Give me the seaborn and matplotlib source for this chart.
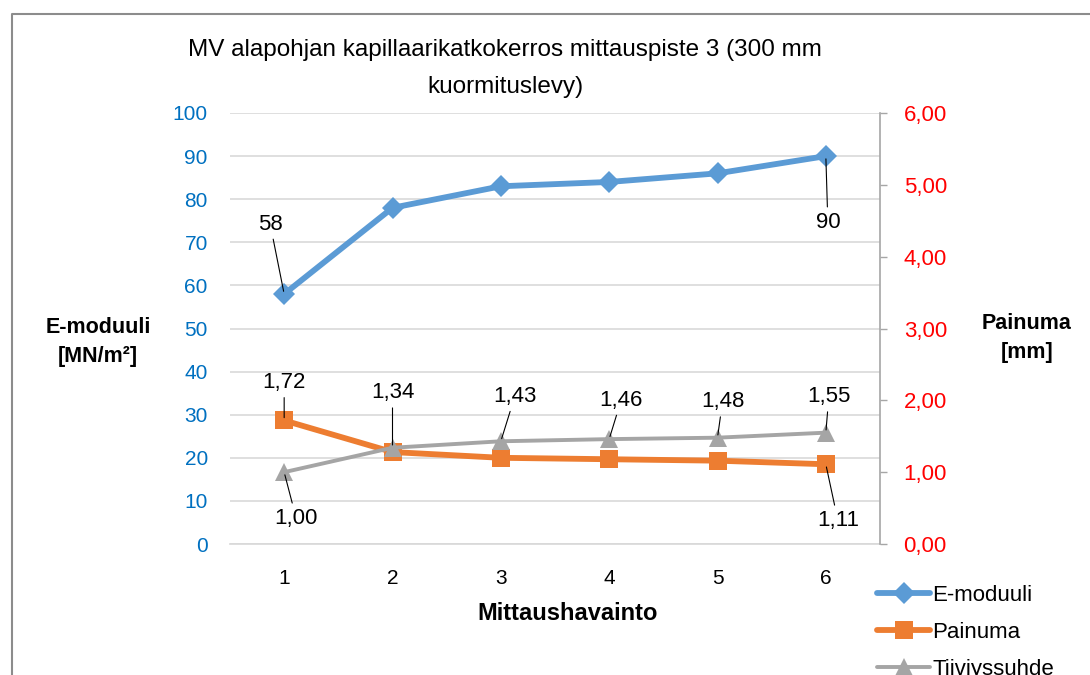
import numpy as np
import pandas as pd
import seaborn as sns
from matplotlib import pyplot as plt
from matplotlib.lines import Line2D

# data
mittaus = [1, 2, 3, 4, 5, 6]
e_moduuli = [58, 78, 83, 84, 86, 90]
painuma = [1.72, 1.28, 1.20, 1.18, 1.16, 1.11]
tiiviyssuhde = [1.00, 1.34, 1.43, 1.46, 1.48, 1.55]

e_ticks = [0, 10, 20, 30, 40, 50, 60, 70, 80, 90, 100]
p_ticks = [0, 1, 2, 3, 4, 5, 6]

# which points get a value label, and where the label sits (pixels from point)
e_labels = {0: (-14, 70), 5: (2, -66)}
p_labels = {0: (0, 38), 5: (12, -56)}
t_labels = {0: (12, -46), 1: (0, 55), 2: (14, 45), 3: (12, 39), 4: (5, 36), 5: (3, 36)}

df = pd.DataFrame({"Mittaushavainto": mittaus, "E-moduuli": e_moduuli,
                   "Painuma": painuma, "Tiiviyssuhde": tiiviyssuhde})

sns.set_theme(style="white")
plt.rcParams["font.family"] = ["Liberation Sans", "DejaVu Sans"]
plt.rcParams["text.color"] = "black"
plt.rcParams["xtick.color"] = "black"

BLUE = "#5B9BD5"
ORANGE = "#ED7D31"
GRAY = "#A5A5A5"

fig = plt.figure(figsize=(10.9, 6.75), dpi=100)
ax = fig.add_axes([230 / 1090, 1 - 544 / 675, 650 / 1090, 431 / 675])
ax2 = ax.twinx()

sns.lineplot(data=df, x="Mittaushavainto", y="E-moduuli", ax=ax, color=BLUE,
             marker="D", markersize=11, linewidth=4.2, markeredgewidth=0, label="E-moduuli", legend=False)
sns.lineplot(data=df, x="Mittaushavainto", y="Painuma", ax=ax2, color=ORANGE,
             marker="s", markersize=13, linewidth=4.2, markeredgewidth=0, label="Painuma", legend=False)
sns.lineplot(data=df, x="Mittaushavainto", y="Tiiviyssuhde", ax=ax2, color=GRAY,
             marker="^", markersize=13, linewidth=2.8, markeredgewidth=0, label="Tiiviyssuhde", legend=False)

ax.set_xlim(0.5, 6.5)
ax.set_ylim(0, 100)
ax2.set_ylim(0, 6)
ax.set_xticks(mittaus)
ax.set_yticks(e_ticks)
ax2.set_yticks(p_ticks)
ax2.set_yticklabels([f"{v:.2f}".replace(".", ",") for v in p_ticks])

ax.grid(axis="y", color="#D9D9D9", linewidth=1.2)
ax.set_axisbelow(True)
for s in ["left", "top", "right"]:
    ax.spines[s].set_visible(False)
ax.spines["bottom"].set_color("#D9D9D9")
for s in ["left", "top", "bottom"]:
    ax2.spines[s].set_visible(False)
ax2.spines["right"].set_color("#A6A6A6")
ax2.spines["right"].set_linewidth(1.2)

ax.tick_params(axis="y", length=0, labelsize=15, labelcolor="#0070C0", pad=16)
ax.tick_params(axis="x", length=0, labelsize=15, pad=18)
ax2.tick_params(axis="y", length=5, width=1, color="#A6A6A6", direction="out",
                labelsize=16, labelcolor="#FF0000", pad=12)
ax.set_xlabel("")
ax.set_ylabel("")
ax2.set_ylabel("")


def fmt(v):
    return f"{v:.2f}".replace(".", ",")


for i, (dx, dy) in e_labels.items():
    ax.annotate(str(e_moduuli[i]), (mittaus[i], e_moduuli[i]), xytext=(dx, dy),
                textcoords="offset pixels", ha="center", va="center", fontsize=16,
                arrowprops=dict(arrowstyle="-", color="black", lw=0.8, shrinkA=1, shrinkB=2))
for i, (dx, dy) in p_labels.items():
    ax2.annotate(fmt(painuma[i]), (mittaus[i], painuma[i]), xytext=(dx, dy),
                 textcoords="offset pixels", ha="center", va="center", fontsize=16,
                 arrowprops=dict(arrowstyle="-", color="black", lw=0.8, shrinkA=1, shrinkB=2))
for i, (dx, dy) in t_labels.items():
    ax2.annotate(fmt(tiiviyssuhde[i]), (mittaus[i], tiiviyssuhde[i]), xytext=(dx, dy),
                 textcoords="offset pixels", ha="center", va="center", fontsize=16,
                 arrowprops=dict(arrowstyle="-", color="black", lw=0.8, shrinkA=1, shrinkB=2))

fig.text(505 / 1090, 1 - 50 / 675, "MV alapohjan kapillaarikatkokerros mittauspiste 3 (300 mm",
         ha="center", va="center", fontsize=17.5)
fig.text(505 / 1090, 1 - 87 / 675, "kuormituslevy)", ha="center", va="center", fontsize=17.5)
fig.text(98 / 1090, 1 - 342 / 675, "E-moduuli\n[MN/m²]", ha="center", va="center",
         fontsize=15.5, fontweight="bold", linespacing=1.55)
fig.text(1027 / 1090, 1 - 338 / 675, "Painuma\n[mm]", ha="center", va="center",
         fontsize=15.5, fontweight="bold", linespacing=1.55)
fig.text(568 / 1090, 1 - 613 / 675, "Mittaushavainto", ha="center", va="center",
         fontsize=17, fontweight="bold")

handles = [Line2D([], [], color=BLUE, marker="D", markersize=11, linewidth=4.2, markeredgewidth=0),
           Line2D([], [], color=ORANGE, marker="s", markersize=13, linewidth=4.2, markeredgewidth=0),
           Line2D([], [], color=GRAY, marker="^", markersize=13, linewidth=2.8, markeredgewidth=0)]
fig.legend(handles, ["E-moduuli", "Painuma", "Tiiviyssuhde"], loc="upper left",
           bbox_to_anchor=(868 / 1090, 1 - 576 / 675), frameon=False, fontsize=16,
           handlelength=2.4, handletextpad=0.1, labelspacing=0.72, borderaxespad=0)

# chart frame (cut at right and bottom edges in the reference)
fig.add_artist(Line2D([12 / 1090, 12 / 1090, 1.0], [0.0, 1 - 14 / 675, 1 - 14 / 675],
                      transform=fig.transFigure, color="#8C8C8C", linewidth=1.5))

fig.savefig("out.png", dpi=100)
